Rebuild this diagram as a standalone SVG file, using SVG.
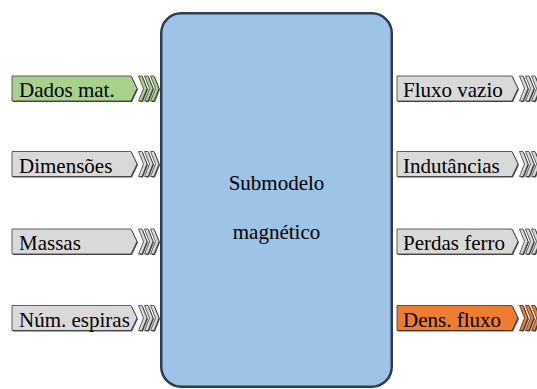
<svg xmlns="http://www.w3.org/2000/svg" width="537" height="389" viewBox="0 0 537 389">
<defs>
<style>
text{font-family:"Liberation Serif","Times New Roman",serif;font-size:21px;fill:#000}
.mt{text-anchor:middle}
.sh{fill:#555}
.bx{stroke:#222;stroke-width:0.7}
.g{fill:#a9d18e}
.gr{fill:#d9d9d9}
.o{fill:#ed7d31}
.main{fill:#9dc3e6;stroke:#2f3b4f;stroke-width:2.5}
</style>
<g id="arrL">
<path d="M0,-12.5 H119 L125,0 L119,12.5 H0 Z"/>
<path d="M126.5,-12.5 h3.5 l5,12.5 l-5,12.5 h-3.5 l5,-12.5 Z"/>
<path d="M132.5,-12.5 h3.5 l5,12.5 l-5,12.5 h-3.5 l5,-12.5 Z"/>
<path d="M138.5,-12.5 h3.5 l5,12.5 l-5,12.5 h-3.5 l5,-12.5 Z"/>
</g>
<g id="arrR">
<path d="M0,-12.5 H115 L121,0 L115,12.5 H0 Z"/>
<path d="M122.5,-12.5 h3.5 l5,12.5 l-5,12.5 h-3.5 l5,-12.5 Z"/>
<path d="M128.5,-12.5 h3.5 l5,12.5 l-5,12.5 h-3.5 l5,-12.5 Z"/>
<path d="M134.5,-12.5 h3.5 l5,12.5 l-5,12.5 h-3.5 l5,-12.5 Z"/>
</g>
</defs>
<rect width="537" height="389" fill="#fff"/>
<g id="submodelo">
<rect class="main" x="161.25" y="13.25" width="230.5" height="373.5" rx="20"/>
<text class="mt" x="276.5" y="190">Submodelo</text>
<text class="mt" x="276.5" y="239">magnético</text>
</g>
<g id="in1">
<use href="#arrL" class="sh" x="13" y="89.5"/>
<use href="#arrL" class="g bx" x="12" y="88.5"/>
<text x="19" y="97">Dados mat.</text>
</g>
<g id="in2">
<use href="#arrL" class="sh" x="13" y="165"/>
<use href="#arrL" class="gr bx" x="12" y="164"/>
<text x="19" y="172.5">Dimensões</text>
</g>
<g id="in3">
<use href="#arrL" class="sh" x="13" y="242.5"/>
<use href="#arrL" class="gr bx" x="12" y="241.5"/>
<text x="19" y="250">Massas</text>
</g>
<g id="in4">
<use href="#arrL" class="sh" x="13" y="319"/>
<use href="#arrL" class="gr bx" x="12" y="318"/>
<text x="19" y="326.5">Núm. espiras</text>
</g>
<g id="out1">
<use href="#arrR" class="sh" x="398" y="89.5"/>
<use href="#arrR" class="gr bx" x="397" y="88.5"/>
<text x="403" y="97">Fluxo vazio</text>
</g>
<g id="out2">
<use href="#arrR" class="sh" x="398" y="165"/>
<use href="#arrR" class="gr bx" x="397" y="164"/>
<text x="403" y="172.5">Indutâncias</text>
</g>
<g id="out3">
<use href="#arrR" class="sh" x="398" y="242.5"/>
<use href="#arrR" class="gr bx" x="397" y="241.5"/>
<text x="403" y="250">Perdas ferro</text>
</g>
<g id="out4">
<use href="#arrR" class="sh" x="398" y="319"/>
<use href="#arrR" class="o bx" x="397" y="318"/>
<text x="403" y="326.5">Dens. fluxo</text>
</g>
<g id="connectors"></g>
</svg>
